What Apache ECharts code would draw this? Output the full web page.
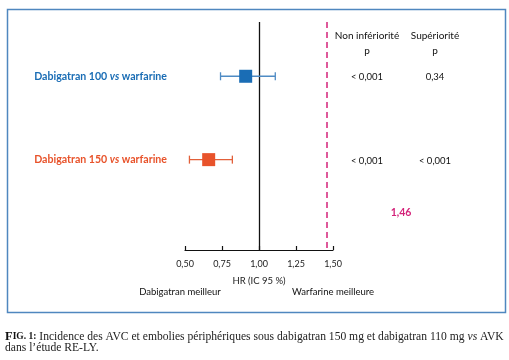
<!DOCTYPE html>
<html><head><meta charset="utf-8">
<script src="https://cdn.jsdelivr.net/npm/echarts@6/dist/echarts.min.js"></script>
<style>html,body{margin:0;padding:0;background:#fff}#c{width:509px;height:360px}</style>
</head><body><div id="c"></div>
<script>
// ---- data ----
const rowNames = ['Dabigatran 100', 'Dabigatran 150'];
const rowSuffix = 'warfarine';
const hr = [0.91, 0.66];
const ciLow = [0.74, 0.53];
const ciHigh = [1.11, 0.82];
const pNonInf = ['< 0,001', '< 0,001'];
const pSup = ['0,34', '< 0,001'];
const margin = 1.46;
const xTicks = [0.5, 0.75, 1.0, 1.25, 1.5];
const colHeaders = ['Non infériorité', 'Supériorité'];

const colors = ['#1a6db5', '#e8532b'];
const whiskerColors = ['#4f8bc4', '#e2603a'];
const magenta = '#d4237a';
const sans = 'Lato';

const chart = echarts.init(document.getElementById('c'), null, {renderer: 'canvas'});
const data = hr.map((v, i) => [v, ciLow[i], ciHigh[i], i + 1]);

const option = {
  animation: false,
  grid: {left: 185, right: 176, top: 22, bottom: 110},
  xAxis: {
    type: 'value', min: xTicks[0], max: xTicks[xTicks.length - 1], interval: 0.25,
    axisLine: {lineStyle: {color: '#111', width: 1.2}},
    axisTick: {inside: true, length: 4, lineStyle: {color: '#111', width: 1.2}},
    splitLine: {show: false},
    axisLabel: {color: '#222', fontFamily: sans, fontSize: 9, margin: 10,
      formatter: v => v.toFixed(2).replace('.', ',')},
    name: 'HR (IC 95 %)', nameLocation: 'middle', nameGap: 26,
    nameTextStyle: {color: '#222', fontFamily: sans, fontSize: 9.5}
  },
  yAxis: {type: 'value', inverse: true, min: 0.349, max: 3.084, show: false},
  series: [{
    type: 'custom',
    data: data,
    encode: {x: [0, 1, 2], y: 3},
    renderItem: function (params, api) {
      const i = params.dataIndex;
      const y = api.coord([api.value(0), api.value(3)])[1];
      const xc = api.coord([api.value(0), api.value(3)])[0];
      const xl = api.coord([api.value(1), api.value(3)])[0];
      const xh = api.coord([api.value(2), api.value(3)])[0];
      const wc = whiskerColors[i];
      const s = 13;
      return {type: 'group', children: [
        {type: 'line', shape: {x1: xl, y1: y, x2: xh, y2: y}, style: {stroke: wc, lineWidth: 1.3}},
        {type: 'line', shape: {x1: xl, y1: y - 4, x2: xl, y2: y + 4}, style: {stroke: wc, lineWidth: 1.3}},
        {type: 'line', shape: {x1: xh, y1: y - 4, x2: xh, y2: y + 4}, style: {stroke: wc, lineWidth: 1.3}},
        {type: 'rect', shape: {x: xc - s / 2, y: y - s / 2, width: s, height: s}, style: {fill: colors[i]}}
      ]};
    },
    z: 5
  }, {
    type: 'line', data: [], silent: true,
    markLine: {
      symbol: 'none', silent: true, label: {show: false},
      data: [
        {xAxis: 1, lineStyle: {color: '#111', width: 1.3, type: 'solid'}},
        {xAxis: margin, lineStyle: {color: magenta, width: 1.5, type: [6, 4]}}
      ]
    }
  }]
};
chart.setOption(option);

const rowY = [1, 2].map(r => chart.convertToPixel({gridIndex: 0}, [1, r])[1]);
const colX = [367, 435];
const g = [];
g.push({type: 'rect', left: 5, top: 7, shape: {x: 0, y: 0, width: 498, height: 303},
  style: {fill: 'none', stroke: '#4f87bf', lineWidth: 1.5}, z: 0});
rowNames.forEach((n, i) => {
  g.push({type: 'text', x: 167, y: rowY[i], style: {
    text: '{b|' + n + ' }{i|vs}{b| ' + rowSuffix + '}', align: 'right', verticalAlign: 'middle',
    rich: {b: {fontFamily: sans, fontWeight: 'bold', fontSize: 10.6, fill: colors[i]},
           i: {fontFamily: sans, fontWeight: 'bold', fontStyle: 'italic', fontSize: 10.6, fill: colors[i]}}}});
  g.push({type: 'text', x: colX[0], y: rowY[i] + 1, style: {text: pNonInf[i], align: 'center', verticalAlign: 'middle', fontFamily: sans, fontSize: 9.5, fill: '#111'}});
  g.push({type: 'text', x: colX[1], y: rowY[i] + 1, style: {text: pSup[i], align: 'center', verticalAlign: 'middle', fontFamily: sans, fontSize: 9.5, fill: '#111'}});
});
colHeaders.forEach((h, j) => {
  g.push({type: 'text', x: colX[j], y: 36, style: {text: h, align: 'center', verticalAlign: 'middle', fontFamily: sans, fontSize: 10, fill: '#111'}});
  g.push({type: 'text', x: colX[j], y: 51, style: {text: 'p', align: 'center', verticalAlign: 'middle', fontFamily: sans, fontSize: 10, fill: '#111'}});
});
g.push({type: 'text', x: 401, y: 213, style: {text: String(margin).replace('.', ','), align: 'center', verticalAlign: 'middle', fontFamily: sans, fontWeight: 'bold', fontSize: 10.5, fill: magenta}});
g.push({type: 'text', x: 180, y: 292, style: {text: 'Dabigatran meilleur', align: 'center', verticalAlign: 'middle', fontFamily: sans, fontSize: 9.5, fill: '#111'}});
g.push({type: 'text', x: 333, y: 292, style: {text: 'Warfarine meilleure', align: 'center', verticalAlign: 'middle', fontFamily: sans, fontSize: 9.5, fill: '#111'}});
g.push({type: 'text', x: 5, y: 331, style: {
  text: '{fb|F}{fs|IG. 1:}{n| Incidence des AVC et embolies périphériques sous dabigatran 150 mg et dabigatran 110 mg }{it|vs}{n| AVK}\n{n|dans l’étude RE-LY.}',
  verticalAlign: 'top', lineHeight: 11,
  rich: {fb: {fontFamily: 'Liberation Serif', fontWeight: 'bold', fontSize: 12.5, fill: '#111', lineHeight: 11},
         fs: {fontFamily: 'Liberation Serif', fontWeight: 'bold', fontSize: 9.5, fill: '#111', lineHeight: 11},
         n: {fontFamily: 'Liberation Serif', fontSize: 11.6, fill: '#222', lineHeight: 11},
         it: {fontFamily: 'Liberation Serif', fontStyle: 'italic', fontSize: 11.6, fill: '#222', lineHeight: 11}}}});
chart.setOption({graphic: {elements: g}});
</script></body></html>
